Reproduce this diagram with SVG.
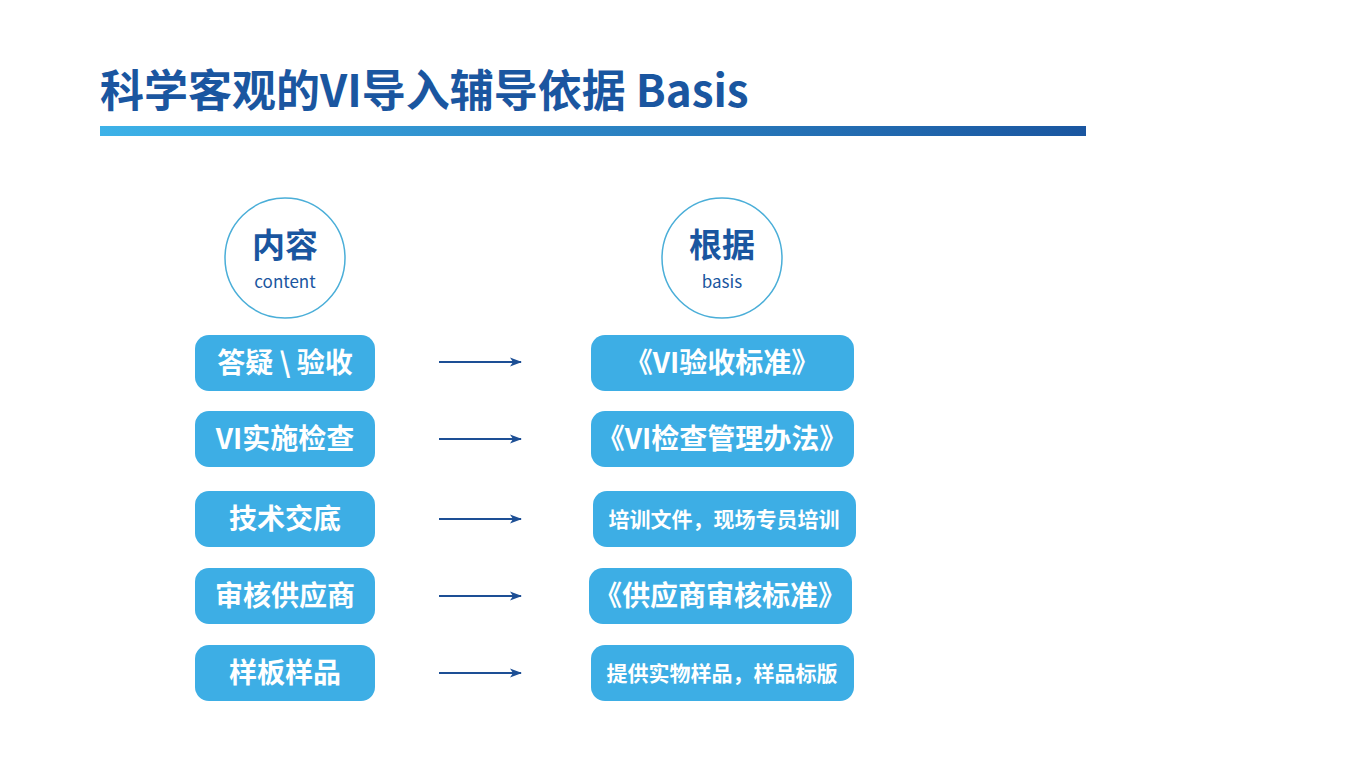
<svg xmlns="http://www.w3.org/2000/svg" width="1366" height="768" viewBox="0 0 1366 768">
<defs>
<linearGradient id="bar" x1="0" y1="0" x2="1" y2="0">
<stop offset="0" stop-color="#3db2e8"/>
<stop offset="1" stop-color="#1a56a0"/>
</linearGradient>
<marker id="ah" markerWidth="12" markerHeight="12" refX="11" refY="6" orient="auto" markerUnits="userSpaceOnUse">
<path d="M0,1.5 L12,6 L0,10.5 L3,6 Z" fill="#1d4f95"/>
</marker>
</defs>
<style>
.t{font-family:"Noto Sans CJK SC","Liberation Sans",sans-serif;font-weight:bold}
.box{fill:#3daee5}
.bt{font-family:"Noto Sans CJK SC","Liberation Sans",sans-serif;font-weight:bold;fill:#ffffff;font-size:28px;text-anchor:middle}
.bs{font-size:21px}
.circ{fill:#ffffff;stroke:#4aaed8;stroke-width:1.5}
.ct{font-family:"Noto Sans CJK SC","Liberation Sans",sans-serif;font-weight:bold;fill:#1a56a0;font-size:33px;text-anchor:middle}
.cs{font-family:"Noto Sans CJK SC","Liberation Sans",sans-serif;fill:#1a56a0;font-size:17px;text-anchor:middle}
.ar{stroke:#1d4f95;stroke-width:2;fill:none}
</style>
<rect width="1366" height="768" fill="#ffffff"/>
<g id="title">
<text class="t" x="100" y="107" font-size="44" fill="#1a56a0">科学客观的VI导入辅导依据 Basis</text>
<rect x="100" y="126" width="986" height="10" fill="url(#bar)"/>
</g>
<g id="head-content">
<circle class="circ" cx="285" cy="258" r="60"/>
<text class="ct" x="285" y="257">内容</text>
<text class="cs" x="285" y="288">content</text>
</g>
<g id="head-basis">
<circle class="circ" cx="722" cy="258" r="60"/>
<text class="ct" x="722" y="257">根据</text>
<text class="cs" x="722" y="288">basis</text>
</g>
<g id="l1"><rect class="box" x="195" y="335" width="180" height="56" rx="14"/><text class="bt" x="285" y="373">答疑 \ 验收</text></g>
<g id="l2"><rect class="box" x="195" y="411" width="180" height="56" rx="14"/><text class="bt" x="285" y="449">VI实施检查</text></g>
<g id="l3"><rect class="box" x="195" y="491" width="180" height="56" rx="14"/><text class="bt" x="285" y="529">技术交底</text></g>
<g id="l4"><rect class="box" x="195" y="568" width="180" height="56" rx="14"/><text class="bt" x="285" y="606">审核供应商</text></g>
<g id="l5"><rect class="box" x="195" y="645" width="180" height="56" rx="14"/><text class="bt" x="285" y="683">样板样品</text></g>
<g id="r1"><rect class="box" x="591" y="335" width="263" height="56" rx="14"/><text class="bt" x="722" y="373">《VI验收标准》</text></g>
<g id="r2"><rect class="box" x="591" y="411" width="263" height="56" rx="14"/><text class="bt" x="722" y="449">《VI检查管理办法》</text></g>
<g id="r3"><rect class="box" x="593" y="491" width="263" height="56" rx="14"/><text class="bt bs" x="724" y="527">培训文件，现场专员培训</text></g>
<g id="r4"><rect class="box" x="589" y="568" width="263" height="56" rx="14"/><text class="bt" x="720" y="606">《供应商审核标准》</text></g>
<g id="r5"><rect class="box" x="591" y="645" width="263" height="56" rx="14"/><text class="bt bs" x="722" y="681">提供实物样品，样品标版</text></g>
<g id="connectors">
<line class="ar" x1="439" y1="362" x2="521" y2="362" marker-end="url(#ah)"/>
<line class="ar" x1="439" y1="439" x2="521" y2="439" marker-end="url(#ah)"/>
<line class="ar" x1="439" y1="519" x2="521" y2="519" marker-end="url(#ah)"/>
<line class="ar" x1="439" y1="596" x2="521" y2="596" marker-end="url(#ah)"/>
<line class="ar" x1="439" y1="673" x2="521" y2="673" marker-end="url(#ah)"/>
</g>
</svg>
